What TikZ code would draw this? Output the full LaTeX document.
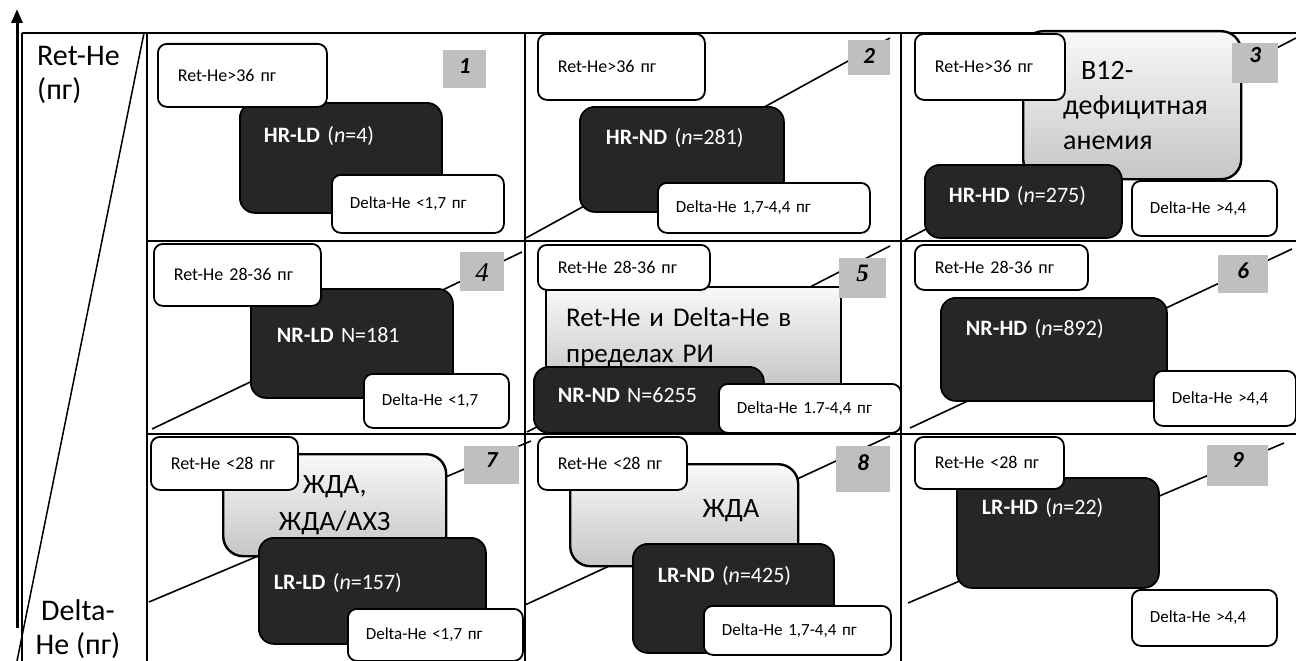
\documentclass[tikz,border=0pt]{standalone}
\usepackage{fontspec}
\setmainfont{Carlito}
\newfontfamily\serifnum{Liberation Serif}
\usetikzlibrary{arrows.meta}
\definecolor{darkfill}{RGB}{38,38,38}

\tikzset{
  gridline/.style={line width=1.5pt},
  diagline/.style={line width=1.6pt},
  retbox/.style={draw, line width=1.8pt, fill=white, rounded corners=9pt, anchor=north west, align=left, inner xsep=20pt, inner ysep=0pt, font=\fontsize{18}{21}\selectfont},
  deltabox/.style={retbox, inner xsep=18pt, font=\fontsize{17}{20}\selectfont},
  darkbox/.style={draw, line width=1.8pt, fill=darkfill, rounded corners=15pt, anchor=north west, align=left, inner ysep=0pt, text=white, font=\fontsize{22}{26}\selectfont},
  diagbox/.style={draw, line width=2.4pt, top color=gray!5, bottom color=gray!45, rounded corners=20pt, anchor=north west, inner ysep=0pt, font=\fontsize{28}{35}\selectfont},
  numbox/.style={fill=gray!50, anchor=north west, inner sep=0pt, font=\fontsize{23}{26}\selectfont\bfseries\itshape},
}

\begin{document}
\begin{tikzpicture}[x=1pt, y=-1pt]
    \useasboundingbox (0,0) rectangle (1296,661);

    \draw[line width=3pt, -{Triangle[width=11pt,length=14pt]}] (17,628) -- (17,9);
    \draw[line width=2pt] (22,33) -- (1296,33);
    \draw[gridline] (22,33) -- (22,661);
    \draw[gridline] (147,33) -- (147,661);
    \draw[gridline] (525,33) -- (525,661);
    \draw[gridline] (901,33) -- (901,661);
    \draw[gridline] (147,241) -- (1296,241);
    \draw[gridline] (147,434) -- (1296,434);
    \draw[gridline] (144,33) -- (17,661);

    \node[anchor=north west, align=left, inner sep=0pt, font=\fontsize{30}{34}\selectfont] (retaxis) at (37,46) {Ret-He\\(пг)};
    \node[anchor=north, align=center, inner sep=0pt, font=\fontsize{30}{34}\selectfont] (deltaaxis) at (78,599) {Delta-\\He (пг)};

    \draw[diagline] (526,238) -- (890,38);
    \draw[diagline] (905,240) -- (1296,38);
    \draw[diagline] (152,429) -- (522,252);
    \draw[diagline] (527,432) -- (890,246);
    \draw[diagline] (910,428) -- (1292,249);
    \draw[diagline] (149,602) -- (531,441);
    \draw[diagline] (525,605) -- (890,436);
    \draw[diagline] (908,603) -- (1284,443);

    \node[diagbox, text width=166pt, inner xsep=26pt, align=left, minimum height=148pt] (bdef) at (1022,30) {\hspace*{32pt}B12-\\\hspace*{14pt}дефицитная\\\hspace*{14pt}анемия};
    \node[diagbox, rounded corners=0pt, text width=255pt, inner xsep=20pt, align=left, minimum height=100pt, font=\fontsize{27}{36}\selectfont] (refint) at (545,286) {Ret-He и Delta-He в\\пределах РИ};
    \node[diagbox, text width=195pt, inner xsep=14pt, align=center, minimum height=102pt, font=\fontsize{28}{37}\selectfont] (jdaaxz) at (222,453) {ЖДА,\\ЖДА/АХЗ};
    \node[diagbox, text width=150pt, inner xsep=39pt, align=right, text height=53pt, text depth=49pt] (jda) at (569,463) {ЖДА};

    \node[darkbox, inner xsep=24pt, text width=154pt, text height=40pt, text depth=70pt] (hrld) at (239,102) {\textbf{HR-LD} (\textit{n}=4)};
    \node[darkbox, inner xsep=26pt, text width=152pt, text height=38pt, text depth=67pt] (hrnd) at (579,106) {\textbf{HR-ND} (\textit{n}=281)};
    \node[darkbox, inner xsep=24pt, text width=149pt, text height=38pt, text depth=35pt] (hrhd) at (924,164) {\textbf{HR-HD} (\textit{n}=275)};
    \node[darkbox, inner xsep=26pt, text width=150pt, text height=54pt, text depth=55pt] (nrld) at (250,288) {\textbf{NR-LD} N=181};
    \node[darkbox, inner xsep=24pt, text width=182pt, text height=36pt, text depth=30pt] (nrnd) at (533,366) {\textbf{NR-ND} N=6255};
    \node[darkbox, inner xsep=25pt, text width=176pt, text height=38pt, text depth=65pt] (nrhd) at (940,297) {\textbf{NR-HD} (\textit{n}=892)};
    \node[darkbox, inner xsep=15pt, text width=197pt, text height=52pt, text depth=54pt] (lrld) at (258,537) {\textbf{LR-LD} (\textit{n}=157)};
    \node[darkbox, inner xsep=25pt, text width=151pt, text height=39pt, text depth=70pt] (lrnd) at (632,543) {\textbf{LR-ND} (\textit{n}=425)};
    \node[darkbox, inner xsep=25pt, text width=152pt, text height=37pt, text depth=73pt] (lrhd) at (956,477) {\textbf{LR-HD} (\textit{n}=22)};

    \node[retbox, text width=129pt, minimum height=63pt] (ret1) at (157,43) {Ret-He>36 пг};
    \node[retbox, text width=127pt, minimum height=66pt] (ret2) at (537,33) {Ret-He>36 пг};
    \node[retbox, text width=110pt, minimum height=66pt] (ret3) at (914,33) {Ret-He>36 пг};
    \node[retbox, text width=127pt, minimum height=62pt] (ret4) at (153,243) {Ret-He 28-36 пг};
    \node[retbox, text width=132pt, minimum height=45pt] (ret5) at (537,244) {Ret-He 28-36 пг};
    \node[retbox, text width=133pt, minimum height=45pt] (ret6) at (914,244) {Ret-He 28-36 пг};
    \node[retbox, text width=107pt, minimum height=53pt] (ret7) at (150,436) {Ret-He <28 пг};
    \node[retbox, text width=109pt, minimum height=53pt] (ret8) at (537,436) {Ret-He <28 пг};
    \node[retbox, text width=109pt, minimum height=52pt] (ret9) at (914,436) {Ret-He <28 пг};

    \node[deltabox, text width=136pt, minimum height=58pt] (delta1) at (331,174) {Delta-He <1,7 пг};
    \node[deltabox, text width=176pt, minimum height=50pt] (delta2) at (657,182) {Delta-He 1,7-4,4 пг};
    \node[deltabox, text width=109pt, minimum height=55pt] (delta3) at (1131,180) {Delta-He >4,4};
    \node[deltabox, text width=109pt, minimum height=54pt] (delta4) at (363,373) {Delta-He <1,7};
    \node[deltabox, text width=146pt, minimum height=49pt] (delta5) at (718,383) {Delta-He 1.7-4,4 пг};
    \node[deltabox, text width=106pt, minimum height=55pt] (delta6) at (1153,370) {Delta-He >4,4};
    \node[deltabox, text width=139pt, minimum height=52pt] (delta7) at (347,608) {Delta-He <1,7 пг};
    \node[deltabox, text width=151pt, minimum height=49pt] (delta8) at (703,605) {Delta-He 1,7-4,4 пг};
    \node[deltabox, text width=109pt, minimum height=56pt] (delta9) at (1131,589) {Delta-He >4,4};

    \node[numbox, minimum width=43pt, text height=23pt, text depth=15pt] (num1) at (443,50) {1};
    \node[numbox, minimum width=42pt, text height=23pt, text depth=12pt] (num2) at (848,40) {2};
    \node[numbox, minimum width=46pt, text height=19pt, text depth=21pt] (num3) at (1232,43) {3};
    \node[numbox, minimum width=44pt, text height=29pt, text depth=10pt, font=\fontsize{27}{30}\serifnum\itshape] (num4) at (460,252) {4};
    \node[numbox, minimum width=47pt, text height=23pt, text depth=17pt, font=\fontsize{25}{28}\serifnum\bfseries\itshape] (num5) at (839,258) {5};
    \node[numbox, minimum width=50pt, text height=23pt, text depth=15pt] (num6) at (1218,255) {6};
    \node[numbox, minimum width=55pt, text height=21pt, text depth=17pt] (num7) at (464,446) {7};
    \node[numbox, minimum width=54pt, text height=24pt, text depth=22pt] (num8) at (836,446) {8};
    \node[numbox, minimum width=61pt, text height=22pt, text depth=19pt] (num9) at (1207,445) {9};
\end{tikzpicture}
\end{document}
